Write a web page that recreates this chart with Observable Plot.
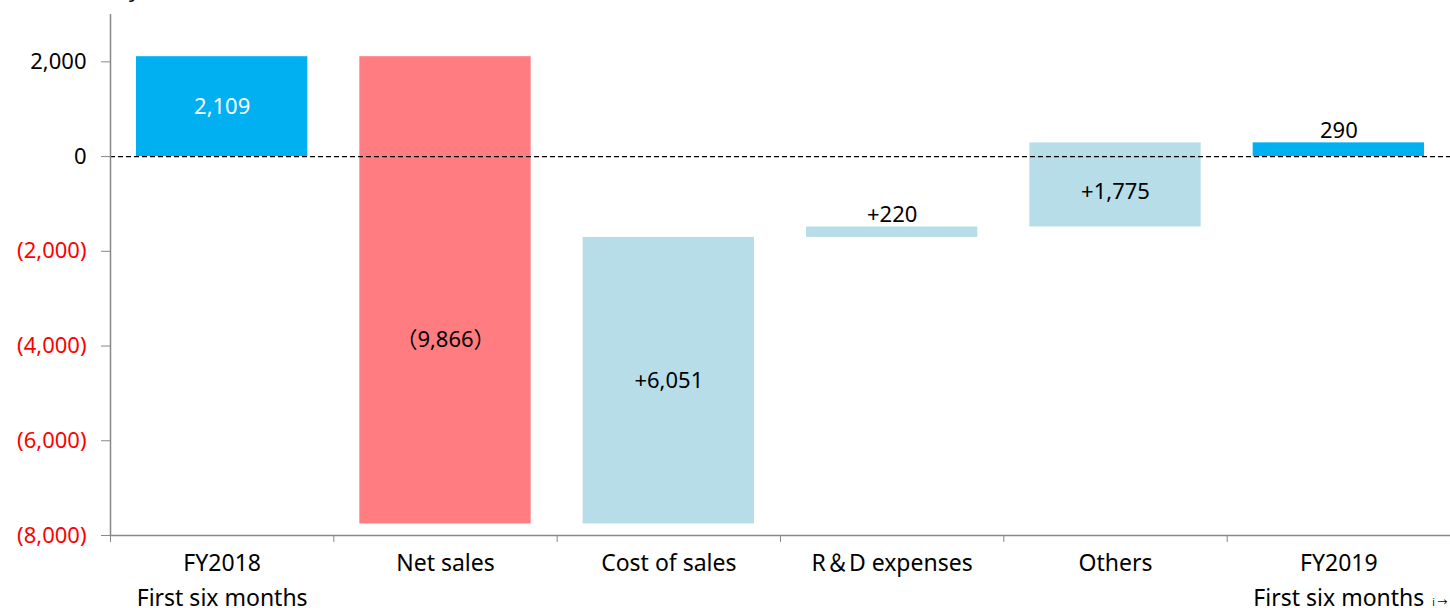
<!DOCTYPE html>
<html><head><meta charset="utf-8">
<script src="https://cdn.jsdelivr.net/npm/d3@7"></script>
<script src="https://cdn.jsdelivr.net/npm/@observablehq/plot@0.6"></script>
<style>
body{margin:0;background:#fff;}
#wrap{position:relative;width:1450px;height:608px;overflow:hidden;font-family:"Noto Sans","Noto Sans CJK JP",sans-serif;}
#unit{position:absolute;left:10px;top:-27px;font-size:22px;color:#000;white-space:nowrap;}
#chart svg{display:block;}
</style></head><body>
<div id="wrap"><div id="unit">(Millions of yen)</div><div id="chart"></div></div>
<script>
const categories = ["FY2018\nFirst six months", "Net sales", "Cost of sales", "R＆D expenses", "Others", "FY2019\nFirst six months"];
const changes = [2109, -9866, 6051, 220, 1775, 290];
const kinds = ["total", "decrease", "increase", "increase", "increase", "total"];
const barLabels = ["2,109", "（9,866）", "+6,051", "+220", "+1,775", "290"];
const yTicks = [2000, 0, -2000, -4000, -6000, -8000];

const colors = {total: "#00B0F0", decrease: "#FF7C80", increase: "#B7DEE8"};

const rows = [];
let run = 0;
categories.forEach((c, i) => {
  let lo, hi;
  if (kinds[i] === "total") { lo = Math.min(0, changes[i]); hi = Math.max(0, changes[i]); run = changes[i]; }
  else { const s = run; run += changes[i]; lo = Math.min(s, run); hi = Math.max(s, run); }
  const small = Math.abs(changes[i]) < 500;
  const mid = (lo < 0 && hi > 0) ? lo / 2 : (lo + hi) / 2;
  rows.push({i, c, lo, hi, kind: kinds[i], label: barLabels[i], small, mid});
});

const fmt = d3.format(",");
const chart = Plot.plot({
  width: 1450, height: 608,
  marginLeft: 110, marginRight: 0, marginTop: 14, marginBottom: 73,
  style: {fontFamily: '"Noto Sans","Noto Sans CJK JP",sans-serif', background: "#fff"},
  x: {domain: [0, categories.length], axis: null},
  y: {domain: [-8000, 3000], axis: null},
  marks: [
    Plot.rectY(rows, {x1: "i", x2: d => d.i + 1, y1: "lo", y2: "hi", fill: d => colors[d.kind], insetLeft: 26, insetRight: 26}),
    Plot.ruleY([0], {stroke: "#000", strokeDasharray: "5,3", strokeWidth: 1.3}),
    Plot.ruleX([0], {stroke: "#888", strokeWidth: 1.5}),
    Plot.ruleY([-8000], {stroke: "#888", strokeWidth: 1.5}),
    Plot.axisY({ticks: yTicks, tickSize: 9, stroke: "#888", tickPadding: 15, fontSize: 22,
      tickFormat: d => d < 0 ? `(${fmt(-d)})` : fmt(d),
      fill: d => d < 0 ? "#FF0000" : "#000000"}),
    Plot.axisX({ticks: d3.range(categories.length + 1), tickSize: 7, stroke: "#888", tickFormat: () => ""}),
    Plot.text(rows, {x: d => d.i + 0.5, y: -8000, text: "c", dy: 10, lineAnchor: "top", lineHeight: 1.55, fontSize: 23, fill: "#000"}),
    Plot.text(rows.filter(d => !d.small), {x: d => d.i + 0.5, y: "mid", text: "label", fontSize: 22,
      fill: d => d.kind === "total" ? "#FFFFFF" : "#000000"}),
    Plot.text(rows.filter(d => d.small), {x: d => d.i + 0.5, y: "hi", text: "label", fontSize: 22, lineAnchor: "bottom", dy: -5, fill: "#000"})
  ]
});
document.getElementById("chart").append(chart);
</script>
</body></html>
